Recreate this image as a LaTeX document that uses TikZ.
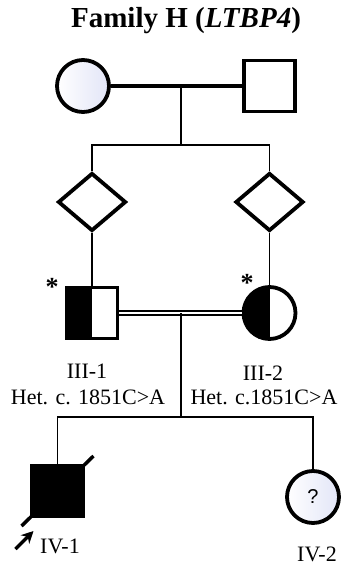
\documentclass[tikz,border=0pt]{standalone}
\usepackage{fontspec}
\setmainfont{Liberation Serif}
\newfontfamily\qfont{Liberation Sans}
\usetikzlibrary{shapes.geometric,arrows.meta,calc}
\definecolor{shadeblue}{RGB}{226,229,247}

\tikzset{
  person/.style={draw, line width=3.8pt, inner sep=0pt, fill=white},
  male/.style={person, rectangle, minimum size=51pt},
  female/.style={person, circle, minimum size=52pt},
  unknown/.style={person, diamond, minimum width=68pt, minimum height=58pt},
  halfleft/.style={path picture={\fill[black] (path picture bounding box.south west) rectangle (path picture bounding box.north);}},
  shaded/.style={left color=white, right color=shadeblue},
  link/.style={line width=1.3pt},
  mate/.style={line width=3.5pt},
  idlabel/.style={font=\fontsize{22}{24}\selectfont, inner sep=0pt},
  star/.style={font=\fontsize{26}{26}\selectfont\bfseries, inner sep=0pt}
}

\begin{document}
\begin{tikzpicture}[x=1pt, y=-1pt]
  \path[use as bounding box] (0,0) rectangle (342,567);

  \node[font=\fontsize{29}{31}\selectfont\bfseries, anchor=base] (title) at (186,28) {Family H (\textit{LTBP4})};

  % generation I
  \node[female, shaded] (I1) at (83,86) {};
  \node[male] (I2) at (269.5,86) {};
  \coordinate (m1) at (181,86);
  \coordinate (sib1) at (181,145);
  \draw[mate] (I1) -- (I2);
  \draw[link] (m1) -- (sib1);

  % generation II
  \node[unknown] (II1) at (92,202) {};
  \node[unknown] (II2) at (269.5,202) {};
  \draw[link] (II1) |- (sib1) -| (II2);

  % generation III
  \node[male, halfleft] (III1) at (92,313) {};
  \node[female, halfleft] (III2) at (269.5,313) {};
  \draw[link] (II1) -- (III1);
  \draw[link] (II2) -- (III2);
  \draw[double, line width=1.6pt, double distance=2.6pt] (III1) -- (III2);
  \node[star] (st1) at (52,287) {*};
  \node[star] (st2) at (247,283) {*};
  \node[idlabel] (lab31) at (87,371) {III-1};
  \node[idlabel] (var31) at (88,397) {Het. c. 1851C>A};
  \node[idlabel] (lab32) at (263,373) {III-2};
  \node[idlabel] (var32) at (264,397) {Het. c.1851C>A};
  \coordinate (m2) at (181,313);
  \coordinate (sib2) at (181,417);
  \draw[link] (m2) -- (sib2);

  % generation IV
  \node[male, fill=black] (IV1) at (57.5,491) {};
  \node[female, shaded] (IV2) at (313,497) {\qfont\fontsize{20}{20}\selectfont ?};
  \draw[link] (IV1) |- (sib2) -| (IV2);
  \draw[line width=3.5pt] ($(IV1.center)+(-36,35)$) -- ($(IV1.center)+(36,-35)$);
  \draw[-{Stealth[length=12pt,width=12pt]}, line width=3.5pt] ($(IV1.center)+(-42,58)$) -- ($(IV1.center)+(-24,40)$);
  \node[idlabel] (lab41) at (60,546) {IV-1};
  \node[idlabel] (lab42) at (317,554) {IV-2};
\end{tikzpicture}
\end{document}
